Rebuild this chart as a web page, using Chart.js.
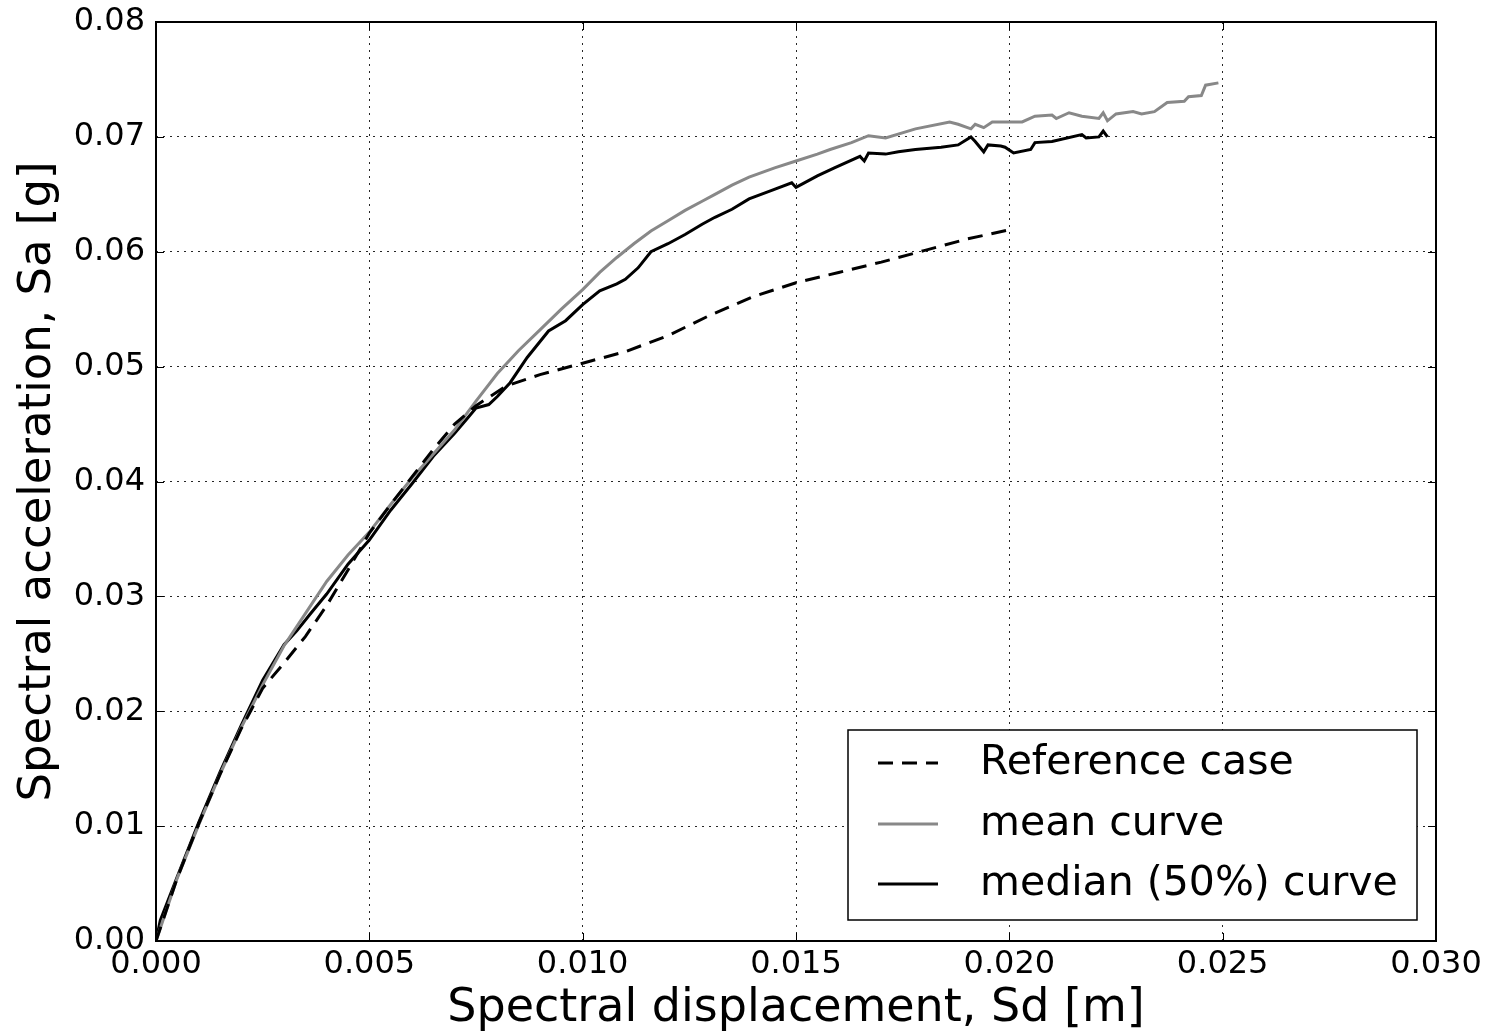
<!DOCTYPE html>
<html>
<head>
<meta charset="utf-8">
<script src="https://cdn.jsdelivr.net/npm/chart.js@4"></script>
<style>
html,body{margin:0;padding:0;background:#fff;}
#wrap{width:1495px;height:1033px;}
</style>
</head>
<body>
<div id="wrap"><canvas id="c" width="1495" height="1033"></canvas></div>
<script>
// ---- data ----
const refLabel = "Reference case";
const meanLabel = "mean curve";
const medLabel = "median (50%) curve";

const sdRef = [0, 0.0005, 0.001, 0.0015, 0.002, 0.0025, 0.003, 0.0035, 0.004, 0.0045, 0.005, 0.0055, 0.006, 0.0065, 0.007, 0.0075, 0.0082, 0.009, 0.010, 0.011, 0.012, 0.013, 0.014, 0.015, 0.016, 0.017, 0.018, 0.019, 0.0201];
const saRef = [0, 0.0055, 0.0102, 0.0145, 0.0185, 0.0220, 0.0242, 0.0265, 0.0292, 0.0323, 0.0355, 0.0380, 0.0404, 0.0428, 0.0450, 0.0466, 0.0483, 0.0493, 0.0503, 0.0513, 0.0527, 0.0545, 0.0561, 0.0573, 0.0582, 0.0591, 0.0601, 0.0611, 0.0620];

const sdMean = [0, 0.0005, 0.001, 0.0015, 0.002, 0.0025, 0.003, 0.0035, 0.004, 0.0045, 0.005, 0.0055, 0.006, 0.0065, 0.007, 0.0075, 0.0080, 0.0085, 0.009, 0.0095, 0.0100, 0.0104, 0.0108, 0.0112, 0.0116, 0.0120, 0.0124, 0.0128, 0.0131, 0.0135, 0.0139, 0.0145, 0.0150, 0.0155, 0.0158, 0.0163, 0.0167, 0.0171, 0.0178, 0.0186, 0.0188, 0.0191, 0.0192, 0.0194, 0.0196, 0.0200, 0.0203, 0.0206, 0.0210, 0.0211, 0.0214, 0.0217, 0.0221, 0.0222, 0.0223, 0.0225, 0.0229, 0.0231, 0.0234, 0.0237, 0.0241, 0.0242, 0.0245, 0.0246, 0.0249];
const saMean = [0, 0.0055, 0.0101, 0.0145, 0.0186, 0.0223, 0.0257, 0.0285, 0.0313, 0.0336, 0.0356, 0.0380, 0.0403, 0.0424, 0.0445, 0.0470, 0.0494, 0.0514, 0.0532, 0.0550, 0.0567, 0.0582, 0.0595, 0.0607, 0.0618, 0.0627, 0.0636, 0.0644, 0.0650, 0.0658, 0.0665, 0.0673, 0.0679, 0.0685, 0.0689, 0.0695, 0.0701, 0.0699, 0.0707, 0.0713, 0.0711, 0.0707, 0.0711, 0.0708, 0.0713, 0.0713, 0.0713, 0.0718, 0.0719, 0.0716, 0.0721, 0.0718, 0.0716, 0.0721, 0.0714, 0.0720, 0.0722, 0.0720, 0.0722, 0.0730, 0.0731, 0.0735, 0.0736, 0.0745, 0.0747];

const sdMed = [0, 0.0001, 0.0005, 0.001, 0.0015, 0.002, 0.0025, 0.003, 0.0033, 0.0036, 0.004, 0.0045, 0.005, 0.0055, 0.006, 0.0065, 0.007, 0.0073, 0.0075, 0.0078, 0.008, 0.0083, 0.0087, 0.0092, 0.0096, 0.0100, 0.0104, 0.0108, 0.0110, 0.0113, 0.0116, 0.0120, 0.0124, 0.0128, 0.0131, 0.0135, 0.0139, 0.0144, 0.0149, 0.0150, 0.0155, 0.0159, 0.0165, 0.0166, 0.0167, 0.0171, 0.0174, 0.0178, 0.0184, 0.0188, 0.0191, 0.0192, 0.0194, 0.0195, 0.0198, 0.0199, 0.0201, 0.0205, 0.0206, 0.0210, 0.0217, 0.0218, 0.0221, 0.0222, 0.0223];
const saMed = [0, 0.0018, 0.0056, 0.0103, 0.0147, 0.0188, 0.0227, 0.0258, 0.0270, 0.0284, 0.0302, 0.0328, 0.0349, 0.0375, 0.0398, 0.0422, 0.0442, 0.0455, 0.0464, 0.0467, 0.0474, 0.0486, 0.0508, 0.0531, 0.0540, 0.0554, 0.0566, 0.0572, 0.0576, 0.0586, 0.0600, 0.0607, 0.0615, 0.0624, 0.0630, 0.0637, 0.0646, 0.0653, 0.0660, 0.0656, 0.0666, 0.0673, 0.0683, 0.0679, 0.0686, 0.0685, 0.0687, 0.0689, 0.0691, 0.0693, 0.0700, 0.0696, 0.0687, 0.0693, 0.0692, 0.0691, 0.0686, 0.0689, 0.0695, 0.0696, 0.0702, 0.0699, 0.0700, 0.0705, 0.0700];

const xTitle = "Spectral displacement, Sd [m]";
const yTitle = "Spectral acceleration, Sa [g]";
const xMin = 0, xMax = 0.03, xStep = 0.005;
const yMin = 0, yMax = 0.08, yStep = 0.01;

function pts(xs, ys){ return xs.map((v,i)=>({x:v, y:ys[i]})); }

Chart.defaults.font.family = "'DejaVu Sans', sans-serif";
Chart.defaults.color = '#000';

const framePlugin = {
  id: 'frame',
  afterDraw(chart){
    const {ctx, chartArea:a, scales:{x, y}} = chart;
    ctx.save();
    ctx.strokeStyle = '#000';
    ctx.lineWidth = 1;
    const tl = 8;
    ctx.beginPath();
    x.ticks.forEach(t=>{
      const px = Math.round(x.getPixelForValue(t.value))+0.5;
      ctx.moveTo(px, a.bottom); ctx.lineTo(px, a.bottom - tl);
      ctx.moveTo(px, a.top); ctx.lineTo(px, a.top + tl);
    });
    y.ticks.forEach(t=>{
      const py = Math.round(y.getPixelForValue(t.value))+0.5;
      ctx.moveTo(a.left, py); ctx.lineTo(a.left + tl, py);
      ctx.moveTo(a.right, py); ctx.lineTo(a.right - tl, py);
    });
    ctx.stroke();
    ctx.lineWidth = 2;
    ctx.strokeRect(a.left, a.top, a.width, a.height);

    // legend box (lower right)
    const bw = 569, bh = 190;
    const bx = a.right - 19 - bw, by = a.bottom - 21 - bh;
    ctx.fillStyle = '#fff';
    ctx.fillRect(bx, by, bw, bh);
    ctx.lineWidth = 1.5;
    ctx.strokeStyle = '#000';
    ctx.strokeRect(bx, by, bw, bh);
    const rows = [33, 94, 154];
    chart.data.datasets.forEach((ds, i)=>{
      const yy = by + rows[i];
      ctx.beginPath();
      ctx.strokeStyle = ds.borderColor;
      ctx.lineWidth = ds.borderWidth;
      ctx.setLineDash(ds.borderDash || []);
      ctx.moveTo(bx + 30, yy); ctx.lineTo(bx + 90, yy);
      ctx.stroke();
      ctx.setLineDash([]);
      ctx.fillStyle = '#000';
      ctx.font = "41px 'DejaVu Sans'";
      ctx.textBaseline = 'middle';
      ctx.textAlign = 'left';
      ctx.fillText(ds.label, bx + 132, yy);
    });
    ctx.restore();
  }
};

new Chart(document.getElementById('c'), {
  type: 'scatter',
  data: {
    datasets: [
      {label: refLabel, data: pts(sdRef, saRef), showLine: true, borderColor: '#000', borderWidth: 3, borderDash: [15, 9], pointRadius: 0, fill: false, tension: 0},
      {label: meanLabel, data: pts(sdMean, saMean), showLine: true, borderColor: '#888888', borderWidth: 3, pointRadius: 0, fill: false, tension: 0},
      {label: medLabel, data: pts(sdMed, saMed), showLine: true, borderColor: '#000', borderWidth: 3, pointRadius: 0, fill: false, tension: 0}
    ]
  },
  options: {
    responsive: false,
    animation: false,
    layout: {padding: {top: 22, right: 59, left: 0, bottom: 0}},
    plugins: {legend: {display: false}, tooltip: {enabled: false}},
    scales: {
      x: {
        type: 'linear', min: xMin, max: xMax,
        afterFit(s){ s.height = 92; },
        ticks: {stepSize: xStep, font: {size: 32}, padding: 4, maxRotation: 0, callback: v => v.toFixed(3)},
        grid: {color: 'rgba(0,0,0,0.85)', lineWidth: 1, drawTicks: false},
        border: {display: false, dash: [2, 5]},
        title: {display: true, text: xTitle, font: {size: 46, lineHeight: 1.05}, padding: {top: 0, bottom: 0}}
      },
      y: {
        type: 'linear', min: yMin, max: yMax,
        afterFit(s){ s.width = 156; },
        ticks: {stepSize: yStep, font: {size: 32, lineHeight: 0.6}, padding: 11, callback: v => v.toFixed(2)},
        grid: {color: 'rgba(0,0,0,0.85)', lineWidth: 1, drawTicks: false},
        border: {display: false, dash: [2, 5]},
        title: {display: true, text: yTitle, font: {size: 45}, padding: {top: 11, bottom: 0}}
      }
    }
  },
  plugins: [framePlugin]
});
</script>
</body>
</html>
